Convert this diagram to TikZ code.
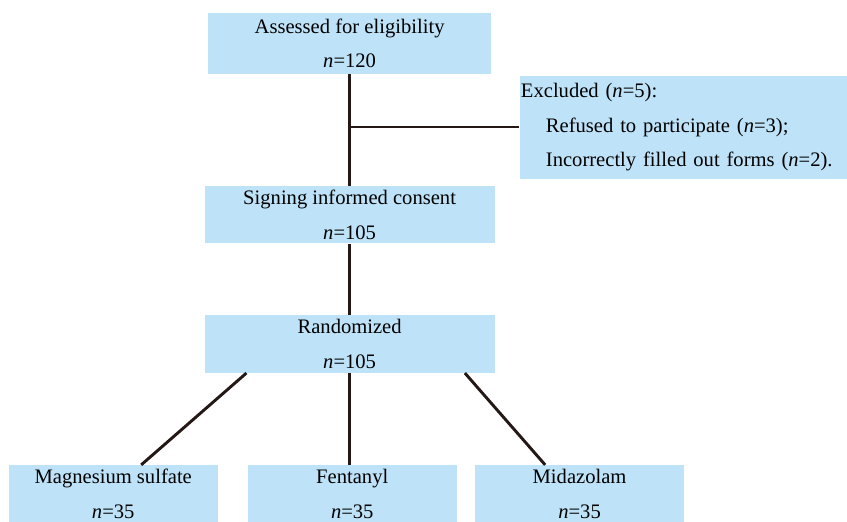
\documentclass[tikz,border=0pt]{standalone}
\usepackage{fontspec}
\setmainfont{Liberation Serif}
\usetikzlibrary{positioning}
\definecolor{boxblue}{RGB}{190,227,248}
\definecolor{linedark}{RGB}{35,24,21}
\tikzstyle{flowbox} = [fill=boxblue, text centered, align=center, font=\fontsize{15.5}{26}\selectfont, inner sep=1pt]
\tikzstyle{stagebox} = [flowbox, minimum width=7.67cm, minimum height=1.53cm]
\tikzstyle{armbox} = [flowbox, minimum width=5.52cm, minimum height=1.53cm]
\tikzstyle{excludebox} = [flowbox, align=left, text width=8.6cm, minimum height=2.73cm]
\tikzstyle{flowline} = [draw=linedark, line width=2.2pt]

\begin{document}
\begin{tikzpicture}
		\useasboundingbox (0,0) rectangle (22.41,-13.81);
		\node (assessed) [stagebox, minimum width=7.49cm, minimum height=1.61cm] at (9.25,-1.15) {Assessed for eligibility\\ \textit{n}=120};
		\node (excluded) [excludebox, below right=0.03cm and 0.74cm of assessed] {Excluded (\textit{n}=5):\\
		\hspace*{0.66cm}Refused to participate (\textit{n}=3);\\
		\hspace*{0.66cm}Incorrectly filled out forms (\textit{n}=2).};
		\node (consent) [stagebox, below=2.96cm of assessed, minimum height=1.51cm] {Signing informed consent\\ \textit{n}=105};
		\node (random) [stagebox, below=1.88cm of consent] {Randomized\\ \textit{n}=105};
		\node (fentanyl) [armbox, below=2.43cm of random, xshift=0.07cm] {Fentanyl\\ \textit{n}=35};
		\node (magnesium) [armbox, left=0.79cm of fentanyl] {Magnesium sulfate\\ \textit{n}=35};
		\node (midazolam) [armbox, right=0.48cm of fentanyl] {Midazolam\\ \textit{n}=35};
		\draw [flowline] (assessed.south) -- (consent.north);
		\draw [flowline, line width=1.4pt] (excluded.west) -- (excluded.west -| assessed.south);
		\draw [flowline] (consent) -- (random);
		\draw [flowline] ([xshift=-2.73cm]random.south) -- ([xshift=0.74cm]magnesium.north);
		\draw [flowline] (random.south) -- (random.south |- fentanyl.north);
		\draw [flowline] ([xshift=3.05cm]random.south) -- ([xshift=-0.91cm]midazolam.north);
	\end{tikzpicture}
\end{document}
